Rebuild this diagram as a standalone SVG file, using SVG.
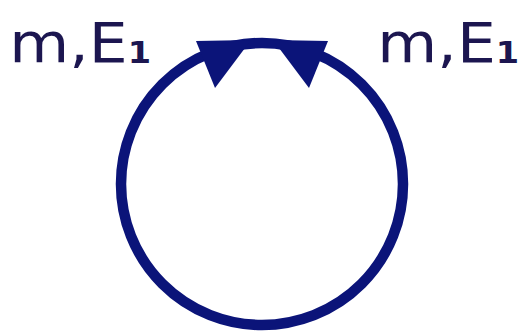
<svg xmlns="http://www.w3.org/2000/svg" width="521" height="332" viewBox="0 0 521 332">
<style>
.lbl{font-family:"DejaVu Sans",Verdana,sans-serif;font-size:55px;fill:#1c1650}
.sub{font-size:30px;font-weight:bold}
.loop{fill:none;stroke:#0b1479;stroke-width:10.5}
.head{fill:#0b1479}
</style>
<rect width="521" height="332" fill="#fff"/>
<g id="connectors">
<circle class="loop" cx="262" cy="184" r="141"/>
<polygon class="head" points="196,41 251,40 215,88"/>
<polygon class="head" points="328,41 273,40 309,88"/>
</g>
<g id="label-left"><text class="lbl" transform="scale(1.12,1)" x="8.3" y="62">m,E<tspan class="sub" dy="1">1</tspan></text></g>
<g id="label-right"><text class="lbl" transform="scale(1.12,1)" x="336.9" y="62">m,E<tspan class="sub" dy="1">1</tspan></text></g>
</svg>
